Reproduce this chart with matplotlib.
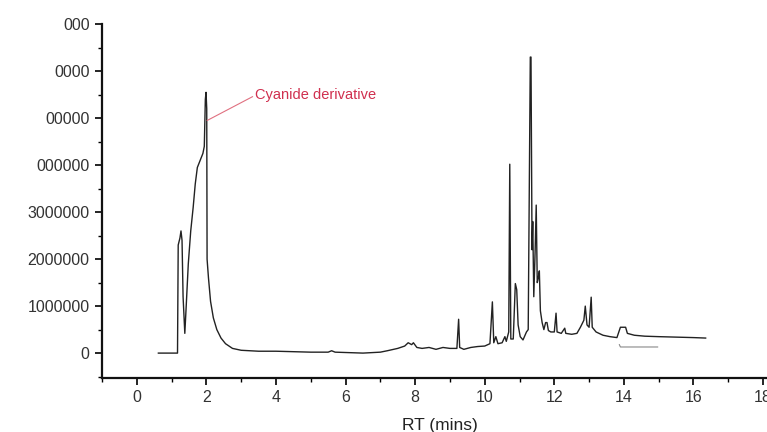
import matplotlib
matplotlib.use("Agg")
from matplotlib import pyplot as plt
from matplotlib.ticker import MultipleLocator
import numpy as np

plt.rcParams['font.family'] = ['Liberation Sans', 'DejaVu Sans']

# retention time (mins) and abundance (millions)
rt = [0.62, 1.17, 1.19, 1.24, 1.27, 1.30, 1.33, 1.38, 1.42, 1.48, 1.55, 1.62,
      1.68, 1.74, 1.82, 1.90, 1.94, 1.97, 1.99, 2.01, 2.02, 2.06, 2.12, 2.20,
      2.30, 2.42, 2.55, 2.75, 3.0, 3.5, 4.0, 4.5, 5.0, 5.5, 5.6, 5.7, 6.5,
      7.0, 7.2, 7.5, 7.7, 7.8, 7.9, 7.95, 8.05, 8.2, 8.4, 8.6, 8.8, 9.0, 9.2,
      9.25, 9.28, 9.4, 9.6, 9.8, 10.0, 10.15, 10.22, 10.26, 10.32, 10.38,
      10.5, 10.58, 10.62, 10.69, 10.72, 10.75, 10.82, 10.88, 10.92, 10.96,
      11.02, 11.1, 11.2, 11.25, 11.31, 11.33, 11.36, 11.38, 11.41, 11.45,
      11.48, 11.51, 11.54, 11.57, 11.6, 11.65, 11.7, 11.75, 11.79, 11.83,
      11.9, 12.0, 12.05, 12.08, 12.2, 12.3, 12.33, 12.5, 12.65, 12.75, 12.85,
      12.89, 12.94, 13.0, 13.06, 13.09, 13.2, 13.4, 13.6, 13.8, 13.9, 14.05,
      14.1, 14.3, 14.6, 15.0, 15.5, 16.0, 16.35]
abund = [0.0, 0.0, 2.3, 2.45, 2.6, 2.4, 1.2, 0.42, 1.0, 1.9, 2.6, 3.1,
         3.6, 3.95, 4.1, 4.25, 4.4, 5.4, 5.55, 5.2, 2.0, 1.6, 1.1, 0.75,
         0.5, 0.32, 0.2, 0.1, 0.06, 0.04, 0.04, 0.03, 0.02, 0.02, 0.05, 0.02,
         0.0, 0.02, 0.05, 0.1, 0.15, 0.22, 0.18, 0.22, 0.12, 0.1, 0.12, 0.08,
         0.12, 0.1, 0.1, 0.72, 0.12, 0.08, 0.12, 0.14, 0.15, 0.2, 1.09, 0.22,
         0.35, 0.2, 0.22, 0.35, 0.25, 0.45, 4.02, 0.3, 0.3, 1.48, 1.35, 0.6,
         0.35, 0.28, 0.45, 0.5, 6.3, 6.3, 2.2, 2.8, 1.2, 2.2, 3.15, 1.5, 1.6,
         1.75, 0.9, 0.65, 0.5, 0.65, 0.65, 0.48, 0.45, 0.45, 0.85, 0.45,
         0.42, 0.53, 0.42, 0.4, 0.42, 0.55, 0.7, 1.0, 0.6, 0.55, 1.19, 0.55,
         0.45, 0.38, 0.35, 0.33, 0.55, 0.55, 0.42, 0.38, 0.36, 0.35, 0.34,
         0.33, 0.32]

# short faint second trace under the baseline
rt2 = [13.87, 13.9, 14.97]
abund2 = [0.18, 0.13, 0.13]

y_ticks = [0, 1, 2, 3, 4, 5, 6, 7]
y_labels = ["0", "1000000", "2000000", "3000000", "000000", "00000", "0000", "000"]

fig = plt.figure(figsize=(7.67, 4.32), dpi=100)
ax = fig.add_axes([0.133, 0.125, 0.88, 0.819])

ax.plot(rt, np.array(abund), color="#222222", linewidth=1.0)
ax.plot(rt2, abund2, color="#888888", linewidth=0.8)

ax.set_xlim(-1.0, 18.4)
ax.set_ylim(-0.53, 7.0)

ax.set_yticks(y_ticks)
ax.set_yticklabels(y_labels)
ax.set_xticks(range(0, 19, 2))
ax.xaxis.set_minor_locator(MultipleLocator(1))
ax.yaxis.set_minor_locator(MultipleLocator(0.5))

for s in ["top", "right"]:
    ax.spines[s].set_visible(False)
for s in ["left", "bottom"]:
    ax.spines[s].set_linewidth(1.6)
    ax.spines[s].set_color("#111111")

ax.tick_params(which="major", direction="out", length=5, width=1.2,
               labelsize=11.5, labelcolor="#333333", pad=4)
ax.tick_params(which="minor", direction="out", length=3, width=1.0)

ax.set_xlabel("RT (mins)", fontsize=12.5, color="#222222", labelpad=9)

# annotation for the big early peak
ax.annotate("Cyanide derivative", xy=(2.02, 4.95), xytext=(3.41, 5.49),
            color="#d0304f", fontsize=10.5, va="center", ha="left",
            arrowprops=dict(arrowstyle="-", color="#e07080", lw=0.8,
                            shrinkA=0, shrinkB=0, relpos=(0, 0.5)))

plt.savefig("out.png", dpi=100)
